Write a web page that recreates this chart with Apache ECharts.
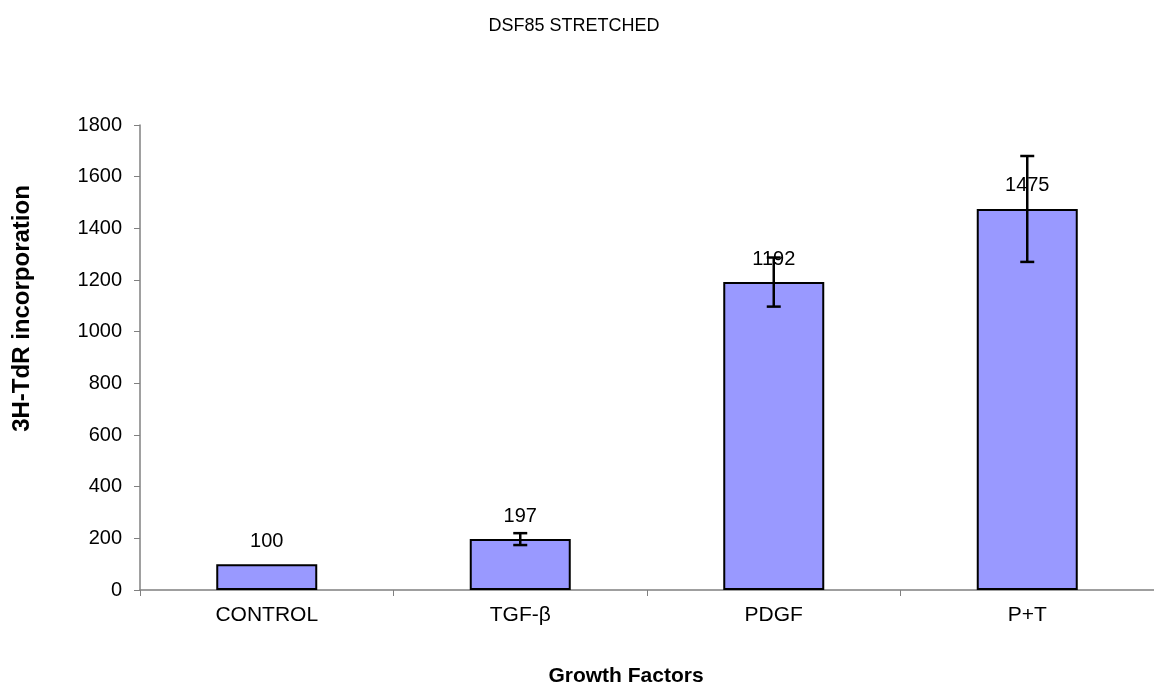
<!DOCTYPE html>
<html><head><meta charset="utf-8">
<script src="https://cdn.jsdelivr.net/npm/echarts@6/dist/echarts.min.js"></script>
<style>html,body{margin:0;padding:0;background:#fff}#c{width:1154px;height:688px}</style>
</head><body><div id="c"></div>
<script>
const categories = ['CONTROL', 'TGF-β', 'PDGF', 'P+T'];
const values = [100, 197, 1192, 1475];
const errors = [0, 23, 95, 205];
const yTicks = [0, 200, 400, 600, 800, 1000, 1200, 1400, 1600, 1800];

const errData = categories.map((c, i) => [i, values[i] - errors[i], values[i] + errors[i]]);

const chart = echarts.init(document.getElementById('c'));
const font = 'Liberation Sans, Arial, sans-serif';
chart.setOption({
  animation: false,
  backgroundColor: '#fff',
  title: {
    text: 'DSF85 STRETCHED', left: 569, top: 12, textAlign: 'center',
    textStyle: { fontFamily: font, fontSize: 18, fontWeight: 'normal', color: '#000' }
  },
  grid: { left: 140, right: 0, top: 125, bottom: 98, containLabel: false, outerBoundsMode: 'none' },
  xAxis: {
    type: 'category', data: categories,
    name: 'Growth Factors', nameLocation: 'middle', nameGap: 76,
    nameTextStyle: { fontFamily: font, fontSize: 21, fontWeight: 'bold', color: '#000', padding: [0, 42, 0, 0] },
    axisLine: { lineStyle: { color: '#808080', width: 1.5 } },
    axisTick: { show: true, alignWithLabel: false, length: 6, lineStyle: { color: '#808080' } },
    axisLabel: { fontFamily: font, fontSize: 21, color: '#000', margin: 15 }
  },
  yAxis: {
    type: 'value', min: 0, max: 1800, interval: 200,
    name: '3H-TdR incorporation', nameLocation: 'middle', nameGap: 106, nameRotate: 90,
    nameTextStyle: { fontFamily: font, fontSize: 24, fontWeight: 'bold', color: '#000', padding: [0, 0, 0, 98] },
    axisLine: { show: true, lineStyle: { color: '#808080', width: 1.5 } },
    axisTick: { show: true, length: 6, lineStyle: { color: '#808080' } },
    splitLine: { show: false },
    axisLabel: { fontFamily: font, fontSize: 20, color: '#000', margin: 18,
      formatter: v => yTicks.includes(v) ? String(v) : '' }
  },
  series: [{
    type: 'bar', data: values, barWidth: 101,
    itemStyle: { color: '#9999ff', borderColor: '#000', borderWidth: 2 },
    label: { show: true, position: 'top', distance: 13, fontFamily: font, fontSize: 20, color: '#000' },
    z: 2
  }, {
    type: 'custom', data: errData, z: 5,
    renderItem: function (params, api) {
      const x = api.value(0);
      const lo = api.coord([x, api.value(1)]);
      const hi = api.coord([x, api.value(2)]);
      if (api.value(2) === api.value(1)) return null;
      const w = 7;
      const st = { stroke: '#000', lineWidth: 2.5 };
      return { type: 'group', children: [
        { type: 'line', shape: { x1: lo[0], y1: lo[1], x2: hi[0], y2: hi[1] }, style: st },
        { type: 'line', shape: { x1: lo[0] - w, y1: lo[1], x2: lo[0] + w, y2: lo[1] }, style: st },
        { type: 'line', shape: { x1: hi[0] - w, y1: hi[1], x2: hi[0] + w, y2: hi[1] }, style: st }
      ]};
    }
  }]
});
</script></body></html>
